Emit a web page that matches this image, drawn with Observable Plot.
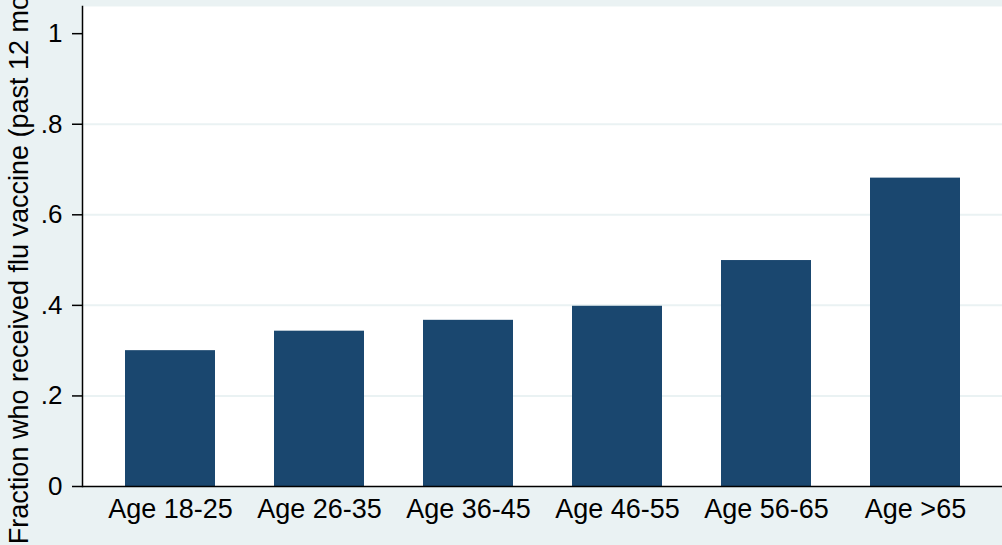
<!DOCTYPE html>
<html>
<head>
<meta charset="utf-8">
<script src="https://cdn.jsdelivr.net/npm/d3@7"></script>
<script src="https://cdn.jsdelivr.net/npm/@observablehq/plot@0.6"></script>
<style>
  html, body { margin: 0; padding: 0; background: #eaf2f3; overflow: hidden; }
  #chart svg { display: block; }
</style>
</head>
<body>
<div id="chart"></div>
<script>
const categories = ["Age 18-25", "Age 26-35", "Age 36-45", "Age 46-55", "Age 56-65", "Age >65"];
const fractions = [0.300, 0.343, 0.367, 0.398, 0.499, 0.681];
const yTicks = [0, 0.2, 0.4, 0.6, 0.8, 1];
const yTickLabels = ["0", ".2", ".4", ".6", ".8", "1"];
const gridValues = [0.2, 0.4, 0.6, 0.8];
const yTitle = "Fraction who received flu vaccine (past 12 months)";

const data = categories.map((c, i) => ({category: c, fraction: fractions[i]}));

const chart = Plot.plot({
  width: 1002,
  height: 545,
  marginLeft: 82,
  marginRight: 0,
  marginTop: 6,
  marginBottom: 59,
  style: {
    background: "#eaf2f3",
    fontFamily: "'Liberation Sans', Arial, Helvetica, sans-serif",
    fontSize: "26px",
    color: "#000"
  },
  x: {domain: categories, paddingInner: 0.396, paddingOuter: 0.285, label: null},
  y: {domain: [0, 1.06], label: null},
  marks: [
    Plot.frame({fill: "white", stroke: null}),
    Plot.gridY(gridValues, {stroke: "#eaf2f3", strokeOpacity: 1, strokeWidth: 2}),
    Plot.barY(data, {x: "category", y: "fraction", fill: "#1a476f"}),
    Plot.frame({anchor: "left", stroke: "#000", strokeWidth: 1.5}),
    Plot.ruleY([0], {stroke: "#000", strokeWidth: 1.5}),
    Plot.axisY({
      ticks: yTicks,
      tickFormat: d => yTickLabels[yTicks.indexOf(d)],
      tickSize: 10,
      tickPadding: 10,
      strokeWidth: 1.5,
      fontSize: 26,
      label: null
    }),
    Plot.text([yTitle], {
      text: d => d,
      frameAnchor: "left",
      rotate: -90,
      lineAnchor: "top",
      textAnchor: "middle",
      dx: -74,
      dy: -7,
      fontSize: 27,
      fill: "#000"
    }),
    Plot.axisX({tickSize: 0, tickPadding: 12, fontSize: 27, label: null})
  ]
});
document.getElementById("chart").appendChild(chart);
</script>
</body>
</html>
